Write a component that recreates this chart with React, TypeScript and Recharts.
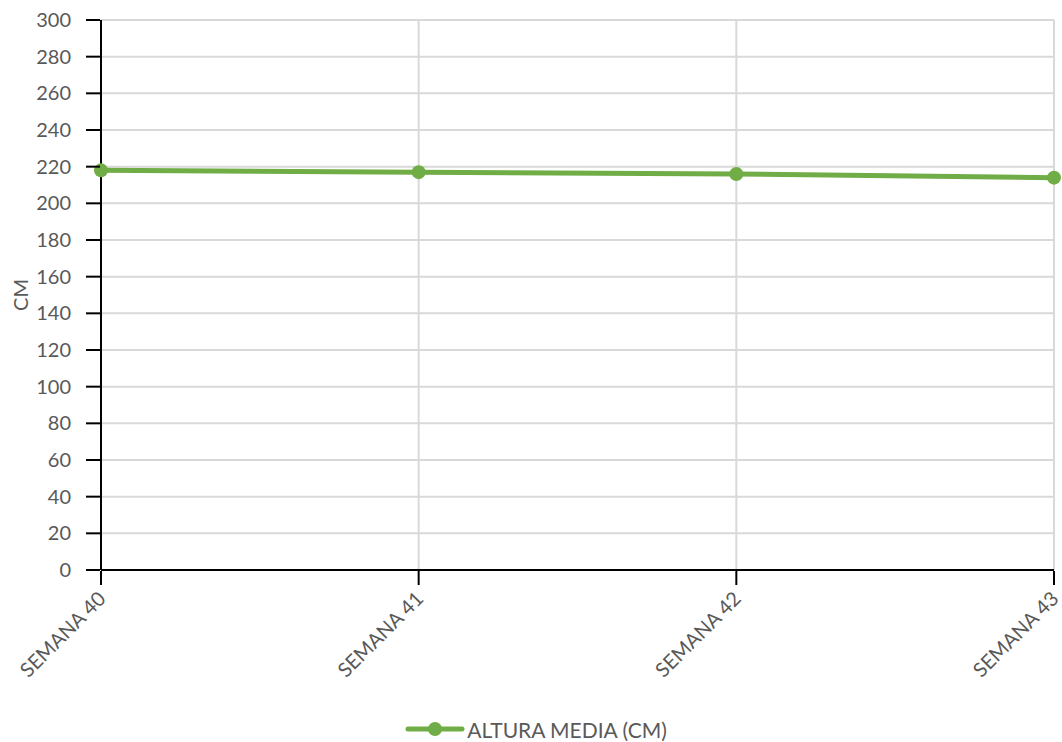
import React from 'react';
import { LineChart, Line, XAxis, YAxis, CartesianGrid, Legend } from 'recharts';

const semanas = ['SEMANA 40', 'SEMANA 41', 'SEMANA 42', 'SEMANA 43'];
const alturaMedia = [218, 217, 216, 214];
const yTicks = [0, 20, 40, 60, 80, 100, 120, 140, 160, 180, 200, 220, 240, 260, 280, 300];

const data = semanas.map((s, i) => ({ semana: s, altura: alturaMedia[i] }));

const FONT = 'Lato, "Open Sans", sans-serif';
const GREEN = '#70ad47';
const TEXT = '#595959';

const XTick = (props: any) => {
  const { x, y, payload } = props;
  return (
    <g>
      <line x1={x} x2={x} y1={y - 7} y2={y + 7} stroke="#000" strokeWidth={2} />
      <text
        x={x + 6}
        y={y + 22}
        transform={`rotate(-45, ${x + 6}, ${y + 22})`}
        textAnchor="end"
        fill={TEXT}
        fontSize={20}
        fontFamily={FONT}
      >
        {payload.value}
      </text>
    </g>
  );
};

const YTick = (props: any) => {
  const { x, y, payload } = props;
  return (
    <g>
      <line x1={x - 7} x2={x + 7} y1={y} y2={y} stroke="#000" strokeWidth={2} />
      <text x={x - 22} y={y} dy={7} textAnchor="end" fill={TEXT} fontSize={20} fontFamily={FONT}>
        {payload.value}
      </text>
    </g>
  );
};

const LegendContent = () => (
  <div
    style={{
      height: 26,
      display: 'flex',
      justifyContent: 'center',
      alignItems: 'center',
      fontFamily: FONT,
      paddingLeft: 18,
    }}
  >
    <svg width={60} height={16} style={{ marginRight: 2 }}>
      <line x1={3} x2={57} y1={8} y2={8} stroke={GREEN} strokeWidth={5} strokeLinecap="round" />
      <circle cx={30} cy={8} r={7} fill={GREEN} />
    </svg>
    <span style={{ fontSize: 21, color: TEXT }}>ALTURA MEDIA (CM)</span>
  </div>
);

export default function App() {
  return (
    <div style={{ position: 'absolute', left: 0, top: 0, background: '#fff' }}>
      <LineChart width={1062} height={742} data={data} margin={{ top: 20, right: 8, left: 0, bottom: 0 }}>
        <CartesianGrid stroke="#d9d9d9" strokeWidth={2} />
        <XAxis
          dataKey="semana"
          height={146}
          axisLine={{ stroke: '#000', strokeWidth: 2 }}
          tickLine={false}
          tick={<XTick />}
          interval={0}
        />
        <YAxis
          width={101}
          domain={[0, 300]}
          ticks={yTicks}
          interval={0}
          axisLine={{ stroke: '#000', strokeWidth: 2 }}
          tickLine={false}
          tick={<YTick />}
          label={{
            value: 'CM',
            angle: -90,
            position: 'insideLeft',
            offset: 21,
            style: { fill: TEXT, fontSize: 20, fontFamily: FONT, textAnchor: 'middle' },
          }}
        />
        <Legend verticalAlign="bottom" content={<LegendContent />} />
        <Line
          type="linear"
          dataKey="altura"
          name="ALTURA MEDIA (CM)"
          stroke={GREEN}
          strokeWidth={5}
          dot={{ r: 7, fill: GREEN, stroke: GREEN, strokeWidth: 0 }}
          activeDot={false}
          isAnimationActive={false}
        />
      </LineChart>
    </div>
  );
}
